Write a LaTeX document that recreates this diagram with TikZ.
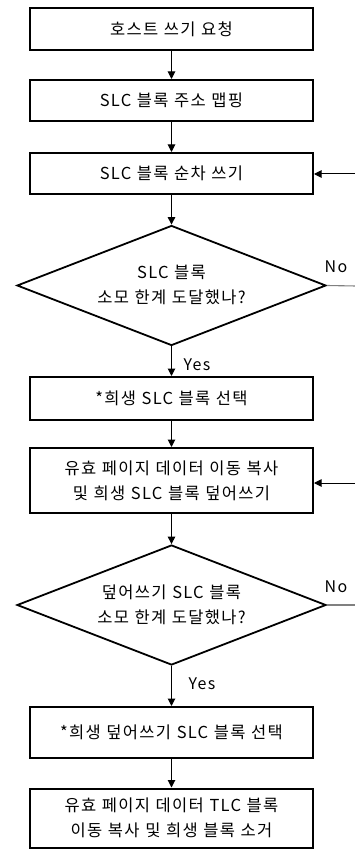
\documentclass[tikz,border=0pt]{standalone}
\usepackage{fontspec}
\setmainfont{Noto Sans CJK KR}[LetterSpace=8]
\usetikzlibrary{arrows.meta,shapes.geometric}
\newcommand{\boxfont}{\fontsize{16.5}{25}\selectfont\spaceskip=0.34em plus 0.1em}
\begin{document}
\begin{tikzpicture}[x=1pt,y=-1pt,
  font=\boxfont,
  procbox/.style={draw=black,line width=2pt,rectangle,minimum width=283pt,inner sep=0pt,align=center},
  decbox/.style={draw=black,line width=1.8pt,diamond,minimum width=309pt,minimum height=120pt,inner sep=0pt},
  dectext/.style={align=center,inner sep=0pt},
  flow/.style={line width=1pt,-{Triangle[length=7.5pt,width=7.5pt]}},
  noline/.style={line width=1.1pt,draw=black!50},
  lbl/.style={inner sep=0pt,font=\fontsize{16}{18}\selectfont}]
\useasboundingbox (0,0) rectangle (355,850);
\node[procbox,minimum height=42pt] (b1) at (171.5,29) {호스트 쓰기 요청};
\node[procbox,minimum height=41pt] (b2) at (171.5,100.5) {SLC 블록 주소 맵핑};
\node[procbox,minimum height=41pt] (b3) at (171.5,173.5) {SLC 블록 순차 쓰기};
\node[decbox] (d1) at (171.5,285.5) {};
\node[dectext] (t1) at (171.5,285) {SLC 블록\\소모 한계 도달했나?};
\node[procbox,minimum height=43pt] (b4) at (171.5,398.5) {*희생 SLC 블록 선택};
\node[procbox,minimum height=65pt] (b5) at (171.5,480.5) {유효 페이지 데이터 이동 복사\\및 희생 SLC 블록 덮어쓰기};
\node[decbox] (d2) at (171.5,605) {};
\node[dectext] (t2) at (171.5,605) {덮어쓰기 SLC 블록\\소모 한계 도달했나?};
\node[procbox,minimum height=51pt] (b6) at (171.5,732.5) {*희생 덮어쓰기 SLC 블록 선택};
\node[procbox,minimum height=59pt] (b7) at (171.5,818) {유효 페이지 데이터 TLC 블록\\이동 복사 및 희생 블록 소거};
\coordinate (e1) at (356,174);
\coordinate (e2) at (356,286);
\coordinate (e3) at (356,483);
\coordinate (e4) at (356,605);
\draw[flow] (b1) -- (b2);
\draw[flow] (b2) -- (b3);
\draw[flow] (b3) -- (d1);
\draw[flow] (d1) -- (b4);
\draw[flow] (b4) -- (b5);
\draw[flow] (b5) -- (d2);
\draw[flow] (d2) -- (b6);
\draw[flow] (b6) -- (b7);
\draw[flow] (e1) -- (b3.east |- e1);
\draw[flow] (e3) -- (b5.east |- e3);
\draw[noline] (d1.east) -- (e2);
\draw[noline] (d2.east) -- (e4);
\node[lbl] (n1) at (336,267) {No};
\node[lbl] (n2) at (336,587) {No};
\node[lbl] (y1) at (197,365) {Yes};
\node[lbl] (y2) at (202,684) {Yes};
\end{tikzpicture}
\end{document}
